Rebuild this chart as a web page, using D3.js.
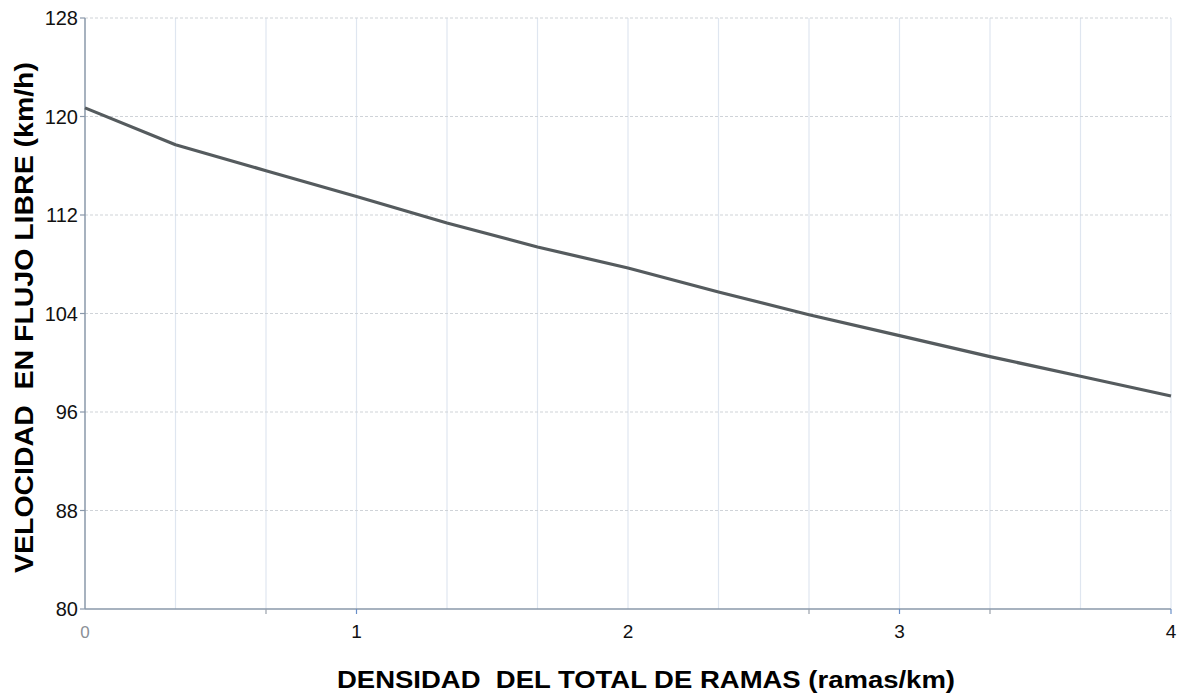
<!DOCTYPE html>
<html><head><meta charset="utf-8">
<script src="https://cdn.jsdelivr.net/npm/d3@7"></script>
<style>body{margin:0;background:#fff}svg{display:block}</style>
</head><body>
<script>
const density = [0, 1/3, 2/3, 1, 4/3, 5/3, 2, 7/3, 8/3, 3, 10/3, 11/3, 4];
const speed   = [120.7, 117.7, 115.6, 113.5, 111.35, 109.4, 107.7, 105.75, 103.9, 102.2, 100.5, 98.9, 97.3];
const xTicks = [0, 1, 2, 3, 4];
const xGrid = [1/3, 2/3, 1, 4/3, 5/3, 2, 7/3, 8/3, 3, 10/3, 11/3, 4];
const yTicks = [80, 88, 96, 104, 112, 120, 128];
const xTitle = "DENSIDAD\u00A0 DEL TOTAL DE RAMAS (ramas/km)";
const yTitle = "VELOCIDAD\u00A0 EN FLUJO LIBRE (km/h)";

const W = 1179, H = 697;
const m = {l: 85, r: 8, t: 18, b: 88};
const svg = d3.select("body").append("svg").attr("width", W).attr("height", H);
const x = d3.scaleLinear().domain([0, 4]).range([m.l, W - m.r]);
const y = d3.scaleLinear().domain([80, 128]).range([H - m.b, m.t]);
const font = "Liberation Sans, Arial, sans-serif";

// vertical grid
svg.append("g").selectAll("line").data(xGrid).join("line")
  .attr("x1", d => x(d)).attr("x2", d => x(d))
  .attr("y1", y(128)).attr("y2", y(80))
  .attr("stroke", "#dfe6f0").attr("stroke-width", 1.2);
// horizontal grid (dashed)
svg.append("g").selectAll("line").data(yTicks.filter(d => d > 80)).join("line")
  .attr("x1", x(0)).attr("x2", x(4))
  .attr("y1", d => y(d)).attr("y2", d => y(d))
  .attr("stroke", "#cfd3d8").attr("stroke-width", 1.2).attr("stroke-dasharray", "3,2");

// axes lines
svg.append("line").attr("x1", x(0)).attr("x2", x(0)).attr("y1", y(128)).attr("y2", y(80))
  .attr("stroke", "#8a98aa").attr("stroke-width", 1.5);
svg.append("line").attr("x1", x(0)).attr("x2", x(4)).attr("y1", y(80)).attr("y2", y(80))
  .attr("stroke", "#8a98aa").attr("stroke-width", 1.5);

// x tick marks
svg.append("g").selectAll("line").data([2/3, 1, 8/3, 3, 10/3, 4]).join("line")
  .attr("x1", d => x(d)).attr("x2", d => x(d))
  .attr("y1", y(80)).attr("y2", y(80) + 5)
  .attr("stroke", d => Number.isInteger(d) ? "#6a8fc8" : "#9aa2ac").attr("stroke-width", 1.2);
// y tick marks
svg.append("g").selectAll("line").data(yTicks).join("line")
  .attr("x1", x(0) - 5).attr("x2", x(0))
  .attr("y1", d => y(d)).attr("y2", d => y(d))
  .attr("stroke", "#8a98aa").attr("stroke-width", 1.2);

// tick labels
svg.append("g").selectAll("text").data(yTicks).join("text")
  .attr("x", x(0) - 7).attr("y", d => y(d)).attr("dy", "0.36em")
  .attr("text-anchor", "end")
  .attr("font-family", font).attr("font-size", 20)
  .attr("fill", "#111").text(d => d);
svg.append("g").selectAll("text").data(xTicks).join("text")
  .attr("x", d => x(d)).attr("y", y(80) + 29)
  .attr("text-anchor", "middle")
  .attr("font-family", font).attr("font-size", d => d === 0 ? 17 : 19)
  .attr("fill", d => d === 0 ? "#8a8f96" : "#111").text(d => d);

// line
svg.append("path").datum(density.map((d, i) => [d, speed[i]]))
  .attr("fill", "none").attr("stroke", "#555b5e").attr("stroke-width", 3.2)
  .attr("stroke-linejoin", "round")
  .attr("d", d3.line().x(d => x(d[0])).y(d => y(d[1])));

// titles
svg.append("text").attr("x", 337).attr("y", 688)
  .attr("font-family", font).attr("font-size", 23)
  .attr("font-weight", "bold").attr("fill", "#000")
  .attr("textLength", 618).attr("lengthAdjust", "spacingAndGlyphs")
  .text(xTitle);

svg.append("text").attr("transform", `translate(33,573) rotate(-90)`)
  .attr("font-family", font).attr("font-size", 25)
  .attr("font-weight", "bold").attr("fill", "#000")
  .attr("textLength", 511).attr("lengthAdjust", "spacingAndGlyphs")
  .text(yTitle);
</script>
</body></html>
